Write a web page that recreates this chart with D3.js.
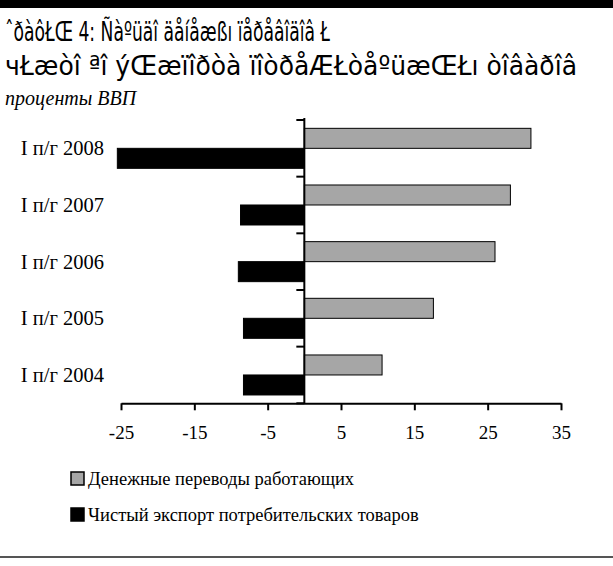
<!DOCTYPE html>
<html>
<head>
<meta charset="utf-8">
<script src="https://cdn.jsdelivr.net/npm/d3@7"></script>
<style>
    body { margin: 0; background: #fff; }
    svg { display: block; }
</style>
</head>
<body>
<div id="chart"></div>
<script>
// data
var categories = ['I п/г 2008', 'I п/г 2007', 'I п/г 2006', 'I п/г 2005', 'I п/г 2004'];
var remittances = [30.9, 28.1, 26.0, 17.6, 10.6];
var netExport = [-25.5, -8.7, -9.0, -8.3, -8.3];
var seriesNames = ['Денежные переводы работающих', 'Чистый экспорт потребительских товаров'];
var tickValues = [-25, -15, -5, 5, 15, 25, 35];

var width = 613, height = 566;
var serif = '"Liberation Serif", "Times New Roman", serif';
var narrow = '"DejaVu Sans Condensed", "Liberation Sans Narrow", sans-serif';

var svg = d3.select('#chart').append('svg').attr('width', width).attr('height', height);

// top bar + bottom rule
svg.append('rect').attr('x', 0).attr('y', 0).attr('width', width).attr('height', 8).attr('fill', '#000');
svg.append('line').attr('x1', 0).attr('x2', width).attr('y1', 557).attr('y2', 557)
    .attr('stroke', '#555').attr('stroke-width', 2);

// title (kept as it shows up, broken encoding and all)
svg.append('text').attr('x', 5).attr('y', 41)
    .attr('font-family', narrow).attr('font-size', 26)
    .attr('textLength', 325).attr('lengthAdjust', 'spacingAndGlyphs')
    .text('ˆðàôŁŒ 4: Ñàºüäî äåíåæßı ïåðåâîäîâ Ł');
svg.append('text').attr('x', 5).attr('y', 75)
    .attr('font-family', narrow).attr('font-size', 26)
    .attr('textLength', 572).attr('lengthAdjust', 'spacingAndGlyphs')
    .text('чŁæòî ªî ýŒæïîðòà ïîòðåÆŁòåºüæŒŁı òîâàðîâ');
svg.append('text').attr('x', 5).attr('y', 105)
    .attr('font-family', serif).attr('font-style', 'italic').attr('font-size', 20)
    .text('проценты ВВП');

var x = d3.scaleLinear().domain([-25, 35]).range([121, 561]);
var y = d3.scaleBand().domain(categories).range([120, 403.3]).paddingInner(0.294).paddingOuter(0.147);
var sub = d3.scaleBand().domain([0, 1]).range([0, y.bandwidth()]);

var rows = categories.map(function (c, i) {
    return {cat: c, vals: [remittances[i], netExport[i]]};
});

var g = svg.append('g');
var grp = g.selectAll('.row').data(rows).enter().append('g')
    .attr('transform', function (d) { return 'translate(0,' + y(d.cat) + ')'; });

grp.selectAll('rect').data(function (d) { return d.vals; }).enter().append('rect')
    .attr('x', function (v) { return x(Math.min(0, v)); })
    .attr('width', function (v) { return Math.abs(x(v) - x(0)); })
    .attr('y', function (v, j) { return sub(j); })
    .attr('height', sub.bandwidth())
    .attr('fill', function (v, j) { return j == 0 ? '#a6a6a6' : '#000'; })
    .attr('stroke', '#000').attr('stroke-width', 1);

// category labels
g.selectAll('.lbl').data(categories).enter().append('text')
    .attr('x', 104).attr('y', function (d) { return y(d) + y.bandwidth() / 2 + 7; })
    .attr('text-anchor', 'end').attr('font-family', serif).attr('font-size', 20.5)
    .text(function (d) { return d; });

// bottom axis, plain hyphen for minus like the original
var xAxis = svg.append('g').attr('transform', 'translate(0,403.3)')
    .call(d3.axisBottom(x).tickValues(tickValues).tickSize(7).tickSizeOuter(0)
        .tickFormat(function (d) { return String(d); }));
xAxis.select('.domain').attr('stroke', '#000').attr('stroke-width', 2);
xAxis.selectAll('.tick line').attr('stroke', '#000').attr('stroke-width', 2);
xAxis.selectAll('.tick text').attr('font-family', serif).attr('font-size', 19).attr('fill', '#000')
    .attr('y', 22).attr('dy', '0.71em');

// vertical axis at zero, ticks on category boundaries
var x0 = x(0);
svg.append('line').attr('x1', x0).attr('x2', x0).attr('y1', 118).attr('y2', 404)
    .attr('stroke', '#000').attr('stroke-width', 2);
var bounds = categories.map(function (c) { return y(c) - y.step() * y.paddingInner() / 2; });
bounds.push(403.3);
svg.selectAll('.ytick').data(bounds).enter().append('line')
    .attr('x1', x0 - 8).attr('x2', x0).attr('y1', function (d) { return d; }).attr('y2', function (d) { return d; })
    .attr('stroke', '#000').attr('stroke-width', 2);

// legend
var leg = svg.selectAll('.leg').data(seriesNames).enter().append('g')
    .attr('transform', function (d, i) { return 'translate(71,' + (472 + i * 36) + ')'; });
leg.append('rect').attr('width', 13).attr('height', 13)
    .attr('fill', function (d, i) { return i == 0 ? '#a6a6a6' : '#000'; })
    .attr('stroke', '#000').attr('stroke-width', 1.5);
leg.append('text').attr('x', 17).attr('y', 13).attr('font-family', serif).attr('font-size', 18.5)
    .text(function (d) { return d; });
</script>
</body>
</html>
